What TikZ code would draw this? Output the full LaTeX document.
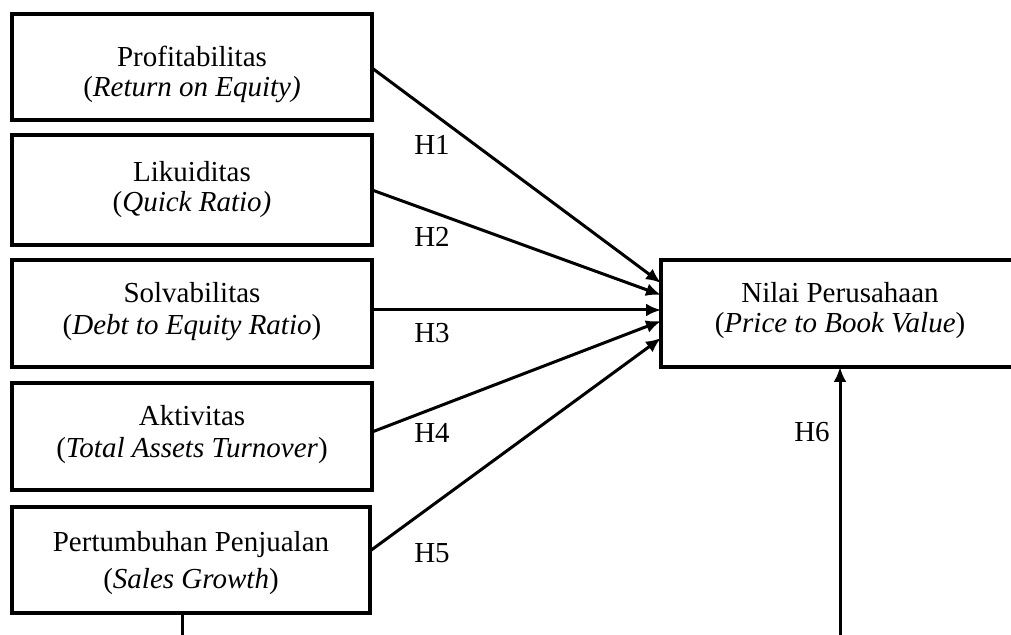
\documentclass[tikz,border=0pt]{standalone}
\usepackage{fontspec}
\setmainfont{Liberation Serif}
\usetikzlibrary{arrows.meta}
\begin{document}
\begin{tikzpicture}[x=0.5pt,y=-0.5pt,
  box/.style={draw, line width=1.6pt, rectangle, inner sep=0pt, outer sep=0pt},
  txt/.style={align=center, inner sep=0pt, font=\fontsize{14.5}{16}\selectfont},
  hyp/.style={inner sep=0pt, font=\fontsize{14.5}{16}\selectfont},
  conn/.style={line width=1.5pt, -{Latex[length=7.5pt,width=6.5pt]}},
  plain/.style={line width=1.5pt}]
\useasboundingbox (0,0) rectangle (1011,635);
\clip (0,0) rectangle (1011,635);
% boxes
\node[box, minimum width=180pt, minimum height=53pt]   (b1) at (192,67) {};
\node[box, minimum width=180pt, minimum height=55pt]   (b2) at (192,190) {};
\node[box, minimum width=180pt, minimum height=53.5pt] (b3) at (192,313.5) {};
\node[box, minimum width=180pt, minimum height=53.5pt] (b4) at (192,436.5) {};
\node[box, minimum width=179pt, minimum height=53pt]   (b5) at (191,560) {};
\node[box, minimum width=179.5pt, minimum height=53.5pt] (t) at (840.5,313.5) {};
% texts
\node[txt] (l1) at (192,74.5) {Profitabilitas\\[-1pt](\textit{Return on Equity)}};
\node[txt] (l2) at (192,190) {Likuiditas\\[-1pt](\textit{Quick Ratio)}};
\node[txt] (l3) at (192,311.5) {Solvabilitas\\(\textit{Debt to Equity Ratio})};
\node[txt] (l4) at (192,434.5) {Aktivitas\\(\textit{Total Assets Turnover})};
\node[txt] (l5) at (191,563) {Pertumbuhan Penjualan\\[2.5pt](\textit{Sales Growth})};
\node[txt] (lt) at (840,311) {Nilai Perusahaan\\[-1pt](\textit{Price to Book Value})};
% connectors
\draw[conn] ([yshift=-0.5pt]b1.east) -- ([yshift=15.25pt]t.west);
\draw[conn] (b2.east) -- ([yshift=9.25pt]t.west);
\draw[conn] ([yshift=1.75pt]b3.east) -- ([yshift=1.75pt]t.west);
\draw[conn] ([yshift=2.25pt]b4.east) -- ([yshift=-3.75pt]t.west);
\draw[conn] ([yshift=4.5pt]b5.east) -- ([yshift=-12.25pt]t.west);
\coordinate (c1) at (182,650);
\coordinate (c2) at (840,650);
\draw[plain] ([xshift=-4.5pt]b5.south) -- (c1);
\draw[conn] (c2) -- ([xshift=-0.25pt]t.south);
% hypothesis labels
\node[hyp] (h1) at (432,145) {H1};
\node[hyp] (h2) at (432,237) {H2};
\node[hyp] (h3) at (432,333) {H3};
\node[hyp] (h4) at (432,433) {H4};
\node[hyp] (h5) at (432,553) {H5};
\node[hyp] (h6) at (812,432) {H6};
\end{tikzpicture}
\end{document}
